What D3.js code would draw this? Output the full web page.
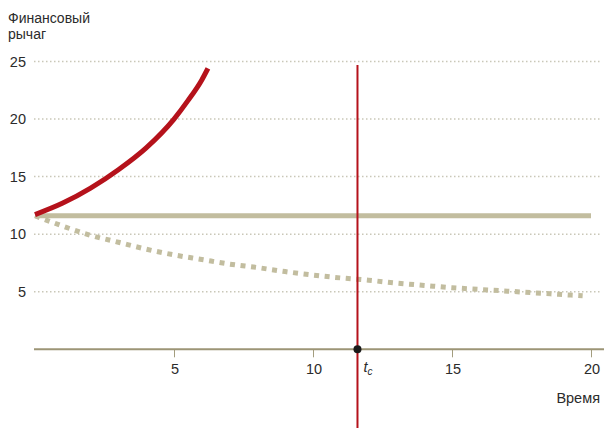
<!DOCTYPE html>
<html><head><meta charset="utf-8">
<script src="https://cdn.jsdelivr.net/npm/d3@7/dist/d3.min.js"></script>
<style>
body{margin:0;background:#fff;}
svg text{font-family:"Liberation Sans",Arial,sans-serif;fill:#2b2b2b;}
</style></head>
<body><svg id="c" width="604" height="428"></svg>
<script>
const yTicks = [5, 10, 15, 20, 25];
const xTicks = [5, 10, 15, 20];
const yTitle = ["Финансовый", "рычаг"];
const xTitle = "Время";
const tc = 11.6;
// red rising leverage
const riseT = [0, 1, 2, 3, 4, 5, 5.5, 6, 6.22];
const riseV = [11.7, 12.7, 14.0, 15.6, 17.5, 20.0, 21.6, 23.4, 24.4];
// constant leverage
const flatT = [0, 20];
const flatV = [11.6, 11.6];
// declining (dotted)
const fallT = [0, 1, 2, 3, 4, 5, 6, 7, 8, 9, 10, 11, 12, 13, 14, 15, 16, 17, 18, 19, 19.7];
const fallV = [11.6, 10.7, 9.9, 9.3, 8.7, 8.2, 7.8, 7.4, 7.1, 6.75, 6.45, 6.2, 6.0, 5.75, 5.55, 5.35, 5.2, 5.05, 4.9, 4.75, 4.65];

const svg = d3.select("#c");
const x = d3.scaleLinear().domain([0, 20]).range([35, 591]);
const y = d3.scaleLinear().domain([0, 25]).range([349.3, 61.5]);

// gridlines
svg.append("g").selectAll("line").data(yTicks).join("line")
  .attr("x1", 34).attr("x2", 602)
  .attr("y1", d => y(d)).attr("y2", d => y(d))
  .attr("stroke", "#c9c7b8").attr("stroke-width", 1.5)
  .attr("stroke-dasharray", "1.5,2.5");

// y labels
svg.append("g").selectAll("text").data(yTicks).join("text")
  .attr("x", 26).attr("y", d => y(d)).attr("dy", "0.35em")
  .attr("text-anchor", "end").attr("font-size", 14.5).text(d => d);

// y title
svg.append("text").attr("x", 8).attr("y", 23).attr("font-size", 14).text(yTitle[0]);
svg.append("text").attr("x", 8).attr("y", 39).attr("font-size", 14).text(yTitle[1]);

// x axis
const xAxis = d3.axisBottom(x).tickValues(xTicks).tickSize(8).tickPadding(6).tickFormat(d => d);
const gx = svg.append("g").attr("transform", `translate(0,${y(0)})`).call(xAxis);
gx.select(".domain").remove();
gx.selectAll(".tick line").attr("stroke", "#a39d7e").attr("stroke-width", 1);
gx.selectAll(".tick text").attr("font-size", 14.5).attr("fill", "#2b2b2b")
  .attr("font-family", "Liberation Sans, Arial, sans-serif").attr("dx", 0.5);
svg.append("line").attr("x1", 34).attr("x2", 604).attr("y1", y(0)).attr("y2", y(0))
  .attr("stroke", "#9c9576").attr("stroke-width", 2);

svg.append("text").attr("x", 600).attr("y", 403).attr("text-anchor", "end")
  .attr("font-size", 14.5).text(xTitle);

const line = d3.line().x(d => x(d[0])).y(d => y(d[1])).curve(d3.curveMonotoneX);

// flat line
svg.append("path").datum(flatT.map((t, i) => [t, flatV[i]]))
  .attr("d", line).attr("fill", "none").attr("stroke", "#c2bd9f").attr("stroke-width", 5);

// dotted falling line
svg.append("path").datum(fallT.map((t, i) => [t, fallV[i]]))
  .attr("d", line).attr("fill", "none").attr("stroke", "#c2bd9f").attr("stroke-width", 5)
  .attr("stroke-dasharray", "5,5.6");

// red rising curve
svg.append("path").datum(riseT.map((t, i) => [t, riseV[i]]))
  .attr("d", line).attr("fill", "none").attr("stroke", "#b5121b").attr("stroke-width", 5);

// tc vertical line
svg.append("line").attr("x1", x(tc)).attr("x2", x(tc)).attr("y1", y(24.7)).attr("y2", 428)
  .attr("stroke", "#b5121b").attr("stroke-width", 2);
svg.append("circle").attr("cx", x(tc)).attr("cy", y(0)).attr("r", 4).attr("fill", "#1a1a1a");

const tl = svg.append("text").attr("x", x(tc) + 6).attr("y", 372).attr("font-size", 14.5).attr("font-style", "italic");
tl.append("tspan").text("t");
tl.append("tspan").attr("font-size", 10).attr("dy", 3).text("c");
</script></body></html>
